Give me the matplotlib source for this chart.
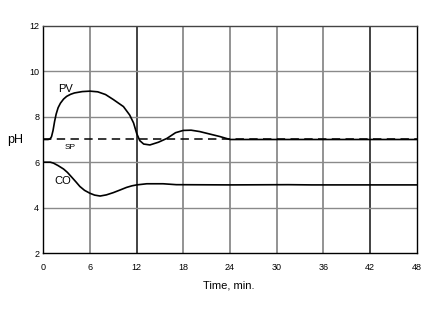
import matplotlib
matplotlib.use("Agg")
import matplotlib.pyplot as plt

# ---- data ----
pv_t = [0, 0.6, 0.85, 1.05, 1.25, 1.45, 1.65, 1.9, 2.2, 2.6, 3.0, 3.5, 4.0, 5.0,
        6.0, 7.0, 8.0, 9.0, 10.3, 11.1, 11.6, 12.0, 12.4, 12.9, 13.7, 14.8, 15.9,
        17.0, 18.0, 19.0, 20.1, 21.4, 22.7, 24.0, 48.0]
pv_v = [7.0, 7.0, 7.02, 7.12, 7.4, 7.8, 8.12, 8.4, 8.6, 8.78, 8.9, 8.99, 9.05, 9.11,
        9.13, 9.1, 8.98, 8.76, 8.45, 8.08, 7.73, 7.27, 6.95, 6.8, 6.76, 6.88, 7.05,
        7.3, 7.4, 7.41, 7.35, 7.24, 7.13, 7.0, 7.0]

co_t = [0, 0.9, 1.3, 1.9, 2.6, 3.1, 3.6, 4.2, 4.7, 5.3, 6.0, 6.6, 7.3, 8.1, 9.0,
        9.9, 10.7, 11.4, 12.0, 13.3, 15.4, 17.1, 24.0, 31.5, 34.5, 48.0]
co_v = [6.0, 6.0, 5.96, 5.85, 5.7, 5.55, 5.36, 5.13, 4.93, 4.76, 4.63, 4.55, 4.51,
        4.56, 4.66, 4.78, 4.89, 4.96, 5.0, 5.05, 5.05, 5.01, 5.0, 5.01, 5.0, 5.0]

sp_t = [0, 48]
sp_v = [7.0, 7.0]

x_ticks = [0, 6, 12, 18, 24, 30, 36, 42, 48]
y_ticks = [2, 4, 6, 8, 10, 12]

# ---- figure ----
plt.rcParams['font.family'] = ['Liberation Sans', 'DejaVu Sans']
fig = plt.figure(figsize=(4.32, 3.09), dpi=100)
ax = fig.add_axes([0.1003, 0.1812, 0.8642, 0.7347])

ax.set_xlim(0, 48)
ax.set_ylim(2, 12)
ax.set_xticks(x_ticks)
ax.set_yticks(y_ticks)
ax.tick_params(length=0, labelsize=6.5, colors='black')
ax.tick_params(axis='x', pad=7)
ax.tick_params(axis='y', pad=3)

for xv in x_ticks[1:-1]:
    c = '#222222' if xv in (12, 42) else '#808080'
    ax.axvline(xv, color=c, lw=1.2, zorder=1)
for yv in y_ticks[1:-1]:
    ax.axhline(yv, color='#8a8a8a', lw=1.0, zorder=1)

for s in ax.spines.values():
    s.set_color('black')
    s.set_linewidth(1.0)
ax.spines['top'].set_color('#444444')

ax.plot(sp_t, sp_v, color='black', lw=1.1, dashes=(5.5, 3.5), zorder=3)
ax.plot(pv_t, pv_v, color='black', lw=1.2, zorder=4, solid_joinstyle='round')
ax.plot(co_t, co_v, color='black', lw=1.2, zorder=4, solid_joinstyle='round')

ax.text(1.9, 9.0, 'PV', fontsize=8, ha='left', va='bottom')
ax.text(2.8, 6.65, 'SP', fontsize=6, ha='left', va='center')
ax.text(1.4, 5.15, 'CO', fontsize=8, ha='left', va='center')

fig.text(15 / 432, 1 - 140 / 309, 'pH', fontsize=9, ha='center', va='center')
fig.text(229 / 432, 1 - 286 / 309, 'Time, min.', fontsize=8, ha='center', va='center')

fig.savefig('out.png', dpi=100)
